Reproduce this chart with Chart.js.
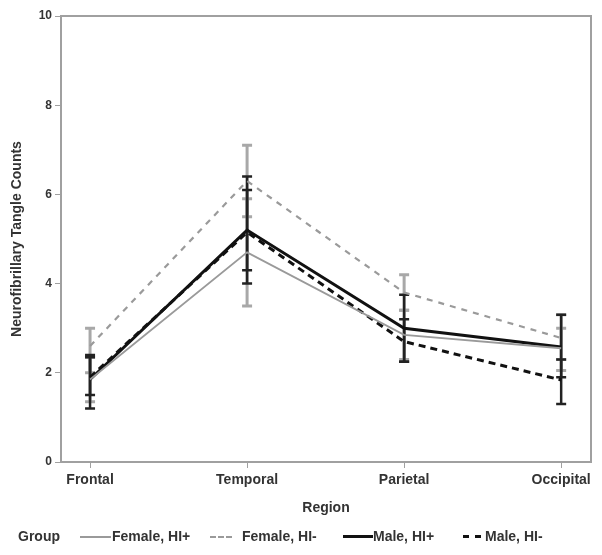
<!DOCTYPE html>
<html>
<head>
<meta charset="utf-8">
<script src="https://cdn.jsdelivr.net/npm/chart.js@4/dist/chart.umd.min.js"></script>
<style>
  html, body { margin: 0; padding: 0; background: #fff; }
  #wrap { position: relative; width: 602px; height: 555px; }
  canvas { position: absolute; left: 0; top: 0; }
  .lg { position: absolute; top: 528px; font: bold 14px "Liberation Sans", Arial, sans-serif; color: #333; white-space: nowrap; line-height: 17px; }
  .ln { position: absolute; height: 0; }
</style>
</head>
<body>
<div id="wrap">
  <canvas id="c" width="602" height="555"></canvas>
  <span class="lg" style="left:18px">Group</span>
  <div class="ln" style="left:80px; width:31px; top:536px; border-top:2px solid #9a9a9a"></div>
  <span class="lg" style="left:112px">Female, HI+</span>
  <div class="ln" style="left:210px; width:22px; top:536px; border-top:2px dashed #9a9a9a"></div>
  <span class="lg" style="left:242px">Female, HI-</span>
  <div class="ln" style="left:343px; width:30px; top:535px; border-top:3px solid #111"></div>
  <span class="lg" style="left:373px">Male, HI+</span>
  <div class="ln" style="left:463px; width:18px; top:535px; border-top:3px dashed #111"></div>
  <span class="lg" style="left:485px">Male, HI-</span>
</div>
<script>
const categories = ["Frontal", "Temporal", "Parietal", "Occipital"];
const yTicks = [0, 2, 4, 6, 8, 10];

const femaleHIPlus      = [1.85, 4.7, 2.85, 2.55];
const femaleHIPlusLow   = [1.35, 3.5, 2.3, 2.05];
const femaleHIPlusHigh  = [2.35, 5.9, 3.4, 3.0];

const femaleHIMinus     = [2.6, 6.3, 3.8, 2.78];
const femaleHIMinusLow  = [2.0, 5.5, 3.4, 2.3];
const femaleHIMinusHigh = [3.0, 7.1, 4.2, 3.3];

const maleHIPlus        = [1.85, 5.2, 3.0, 2.58];
const maleHIPlusLow     = [1.2, 4.0, 2.25, 1.9];
const maleHIPlusHigh    = [2.4, 6.4, 3.75, 3.3];

const maleHIMinus       = [1.9, 5.15, 2.7, 1.84];
const maleHIMinusLow    = [1.5, 4.3, 2.25, 1.3];
const maleHIMinusHigh   = [2.35, 6.1, 3.2, 2.3];

const pts = arr => arr.map((v, i) => ({ x: i, y: v }));
const FONT = '"Liberation Sans", Arial, sans-serif';
const GRAY = '#9a9a9a';

const datasets = [
  { label: 'Female, HI+', data: pts(femaleHIPlus), lo: femaleHIPlusLow, hi: femaleHIPlusHigh,
    borderColor: GRAY, borderWidth: 1.8, errColor: '#a8a8a8', errWidth: 3 },
  { label: 'Female, HI-', data: pts(femaleHIMinus), lo: femaleHIMinusLow, hi: femaleHIMinusHigh,
    borderColor: GRAY, borderWidth: 2.2, borderDash: [6, 6], errColor: '#a8a8a8', errWidth: 3 },
  { label: 'Male, HI+', data: pts(maleHIPlus), lo: maleHIPlusLow, hi: maleHIPlusHigh,
    borderColor: '#111', borderWidth: 3, errColor: '#222', errWidth: 2.5 },
  { label: 'Male, HI-', data: pts(maleHIMinus), lo: maleHIMinusLow, hi: maleHIMinusHigh,
    borderColor: '#111', borderWidth: 3, borderDash: [7, 5], errColor: '#222', errWidth: 2.5 }
].map(d => Object.assign({ showLine: true, pointRadius: 0, fill: false, tension: 0 }, d));

const errorBars = {
  id: 'errorBars',
  beforeDatasetsDraw(chart) {
    const { ctx, scales: { x, y } } = chart;
    ctx.save();
    chart.data.datasets.forEach(ds => {
      ctx.strokeStyle = ds.errColor;
      ctx.lineWidth = ds.errWidth;
      ctx.setLineDash([]);
      ds.data.forEach((p, i) => {
        const px = x.getPixelForValue(p.x);
        const yl = y.getPixelForValue(ds.lo[i]);
        const yh = y.getPixelForValue(ds.hi[i]);
        ctx.beginPath();
        ctx.moveTo(px, yl); ctx.lineTo(px, yh);
        ctx.moveTo(px - 5, yl); ctx.lineTo(px + 5, yl);
        ctx.moveTo(px - 5, yh); ctx.lineTo(px + 5, yh);
        ctx.stroke();
      });
    });
    ctx.restore();
  }
};

const frame = {
  id: 'frame',
  afterDraw(chart) {
    const { ctx, chartArea: a } = chart;
    ctx.save();
    ctx.strokeStyle = '#a0a0a0';
    ctx.lineWidth = 2;
    ctx.strokeRect(a.left, a.top, a.right - a.left, a.bottom - a.top);
    ctx.restore();
  }
};

new Chart(document.getElementById('c'), {
  type: 'scatter',
  data: { datasets },
  plugins: [errorBars, frame],
  options: {
    responsive: false,
    animation: false,
    layout: { padding: { left: 5, top: 16, right: 11, bottom: 35 } },
    plugins: { legend: { display: false }, tooltip: { enabled: false } },
    scales: {
      x: {
        type: 'linear', min: -0.185, max: 3.19,
        afterBuildTicks: s => { s.ticks = categories.map((c, i) => ({ value: i })); },
        afterFit: s => { s.height = 58; },
        ticks: { callback: v => categories[v], color: '#333', font: { family: FONT, size: 14, weight: 'bold' }, padding: 4, maxRotation: 0 },
        grid: { drawOnChartArea: false, tickLength: 6, color: '#a0a0a0', lineWidth: 1 },
        border: { color: '#a0a0a0', width: 2 },
        title: { display: true, text: 'Region', color: '#333', font: { family: FONT, size: 14, weight: 'bold' }, padding: { top: 4, bottom: 3 } }
      },
      y: {
        min: 0, max: 10,
        afterBuildTicks: s => { s.ticks = yTicks.map(v => ({ value: v })); },
        afterFit: s => { s.width = 56; },
        ticks: { color: '#333', font: { family: FONT, size: 12, weight: 'bold' }, padding: 3 },
        grid: { drawOnChartArea: false, tickLength: 6, color: '#a0a0a0', lineWidth: 1 },
        border: { color: '#a0a0a0', width: 2 },
        title: { display: true, text: 'Neurofibrillary Tangle Counts', color: '#333', font: { family: FONT, size: 14, weight: 'bold' }, padding: { top: 4, bottom: 4 } }
      }
    }
  }
});
</script>
</body>
</html>
